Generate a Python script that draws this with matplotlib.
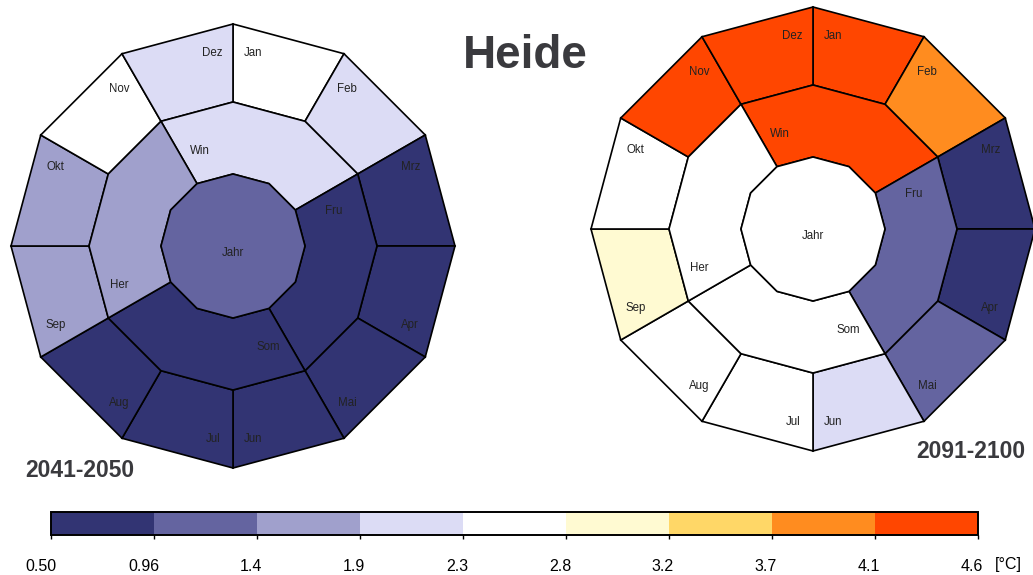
import numpy as np
import matplotlib
matplotlib.use('Agg')
import matplotlib.pyplot as plt
from matplotlib.patches import Polygon
from matplotlib.colors import ListedColormap, BoundaryNorm
from matplotlib.cm import ScalarMappable
from matplotlib.transforms import ScaledTranslation

plt.rcParams['font.family'] = ['Liberation Sans', 'DejaVu Sans']

# temperature change per month / season / year [°C]
months = ['Jan', 'Feb', 'Mrz', 'Apr', 'Mai', 'Jun',
          'Jul', 'Aug', 'Sep', 'Okt', 'Nov', 'Dez']
seasons = ['Win', 'Fru', 'Som', 'Her']

months_2041 = [2.5, 2.1, 0.8, 0.75, 0.85, 0.8, 0.7, 0.8, 1.6, 1.7, 2.6, 2.0]
seasons_2041 = [2.1, 0.8, 0.8, 1.7]
year_2041 = 1.2

months_2091 = [4.4, 3.9, 0.9, 0.9, 1.2, 2.1, 2.5, 2.6, 3.0, 2.5, 4.3, 4.4]
seasons_2091 = [4.3, 1.2, 2.5, 2.6]
year_2091 = 2.6

bounds = [0.50, 0.9556, 1.4111, 1.8667, 2.3222, 2.7778, 3.2333, 3.6889, 4.1444, 4.6]
bound_labels = ['0.50', '0.96', '1.4', '1.9', '2.3', '2.8', '3.2', '3.7', '4.1', '4.6']
colors = ['#323473', '#6464a0', '#a0a0cc', '#dcdcf5', '#ffffff',
          '#fffad2', '#ffd767', '#ff8c1f', '#ff4600']

cmap = ListedColormap(colors)
norm = BoundaryNorm(bounds, cmap.N)

W, H = 1033, 575
fig = plt.figure(figsize=(W / 100, H / 100), dpi=100)
ax = fig.add_axes([0, 0, 1, 1])
ax.set_xlim(0, W)
ax.set_ylim(H, 0)
ax.axis('off')

R_OUT, R_MID, R_IN = 222, 144, 72
season_label_r = [101, 106, 107, 120]
TXT = '#222222'


def pt(cx, cy, r, ang):
    a = np.deg2rad(ang)
    return (cx + r * np.cos(a), cy - r * np.sin(a))


def ring_piece(cx, cy, r0, r1, a0, a1):
    # vertices of the 12-gon between angles a0 -> a1 (clockwise)
    angs = np.arange(a0, a1 - 1, -30)
    outer = [pt(cx, cy, r1, a) for a in angs]
    inner = [pt(cx, cy, r0, a) for a in angs[::-1]]
    return outer + inner


def wheel(cx, cy, mvals, svals, yval):
    kw = dict(edgecolor='black', lw=1.2, joinstyle='miter')
    for i, (name, v) in enumerate(zip(months, mvals)):
        a0 = 90 - 30 * i
        poly = ring_piece(cx, cy, R_MID, R_OUT, a0, a0 - 30)
        ax.add_patch(Polygon(poly, facecolor=cmap(norm(v)), **kw))
        mid = a0 - 15
        s = np.sign(np.sin(np.deg2rad(mid))) * np.sign(np.cos(np.deg2rad(mid)))
        x, y = pt(cx, cy, 194, mid + 9 * s)
        ax.text(x, y, name, ha='center', va='center', fontsize=8.3, color=TXT)
    for i, (name, v) in enumerate(zip(seasons, svals)):
        a0 = 120 - 90 * i
        poly = ring_piece(cx, cy, R_IN, R_MID, a0, a0 - 90)
        ax.add_patch(Polygon(poly, facecolor=cmap(norm(v)), **kw))
        x, y = pt(cx, cy, season_label_r[i], a0 - 45 + 34)
        ax.text(x, y, name, ha='center', va='center', fontsize=8.3, color=TXT)
    poly = [pt(cx, cy, R_IN, a) for a in range(90, -270, -30)]
    ax.add_patch(Polygon(poly, facecolor=cmap(norm(yval)), **kw))
    ax.text(cx, cy + 7, 'Jahr', ha='center', va='center', fontsize=8.3, color=TXT)


wheel(233, 246, months_2041, seasons_2041, year_2041)
wheel(813, 229, months_2091, seasons_2091, year_2091)

grey = '#3a3a3e'
ax.text(525, 68, 'Heide', ha='center', va='baseline', fontsize=33,
        fontweight='bold', color=grey)
ax.text(25, 477, '2041-2050', ha='left', va='baseline', fontsize=16.5,
        fontweight='bold', color=grey)
ax.text(916, 458, '2091-2100', ha='left', va='baseline', fontsize=16.5,
        fontweight='bold', color=grey)

# colour bar
cax = fig.add_axes([51 / W, 40 / H, 927 / W, 23 / H])
cb = fig.colorbar(ScalarMappable(norm=norm, cmap=cmap), cax=cax,
                  orientation='horizontal', ticks=bounds, spacing='proportional')
cb.outline.set_linewidth(1.4)
cb.outline.set_edgecolor('black')
cax.tick_params(axis='x', length=3, width=1, color='black', pad=14,
                labelsize=11.5, labelcolor='black')
cax.set_xticklabels(bound_labels)
shift = ScaledTranslation(5 / 100, 0, fig.dpi_scale_trans)
for lbl in cax.get_xticklabels():
    lbl.set_horizontalalignment('right')
    lbl.set_transform(lbl.get_transform() + shift)
ax.text(1008, 564, '[°C]', ha='center', va='center', fontsize=11.5, color='black')

fig.savefig('out.png', dpi=100)
